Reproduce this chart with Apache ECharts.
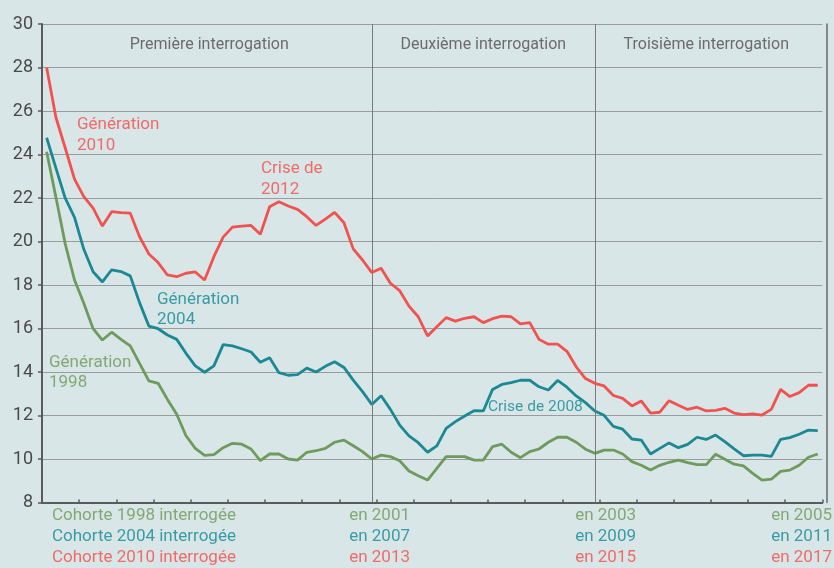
<!DOCTYPE html>
<html>
<head>
<meta charset="utf-8">
<title>Générations</title>
<script src="https://cdn.jsdelivr.net/npm/echarts@6/dist/echarts.min.js"></script>
<style>
  html, body { margin: 0; padding: 0; background: #d9e6e7; }
  #chart { width: 834px; height: 568px; }
</style>
</head>
<body>
<div id="chart"></div>
<script>
// mois depuis la sortie du système éducatif (84 mois)
var mois = [];
for (var m = 1; m <= 84; m++) { mois.push('M' + m); }

var gen2010 = [28.0, 25.7, 24.3, 22.87, 22.06, 21.53, 20.71, 21.37, 21.33, 21.3,
  20.22, 19.43, 19.03, 18.46, 18.38, 18.54, 18.6, 18.23, 19.3, 20.2,
  20.66, 20.71, 20.74, 20.33, 21.6, 21.83, 21.63, 21.48, 21.14, 20.74,
  21.03, 21.34, 20.86, 19.66, 19.15, 18.57, 18.77, 18.08, 17.74, 17.03,
  16.54, 15.66, 16.08, 16.5, 16.34, 16.47, 16.54, 16.27, 16.45, 16.57,
  16.54, 16.21, 16.27, 15.5, 15.28, 15.28, 14.95, 14.24, 13.7, 13.48,
  13.36, 12.92, 12.79, 12.44, 12.67, 12.11, 12.15, 12.68, 12.47, 12.28,
  12.38, 12.21, 12.24, 12.33, 12.11, 12.04, 12.07, 12.02, 12.28, 13.2,
  12.87, 13.05, 13.39, 13.39];

var gen2004 = [24.77, 23.37, 21.99, 21.11, 19.64, 18.61, 18.14, 18.7, 18.62, 18.42,
  17.19, 16.11, 15.99, 15.7, 15.5, 14.86, 14.28, 13.99, 14.28, 15.26,
  15.2, 15.07, 14.92, 14.45, 14.66, 13.97, 13.85, 13.88, 14.18, 14.0,
  14.26, 14.47, 14.21, 13.63, 13.1, 12.51, 12.91, 12.28, 11.56, 11.06,
  10.75, 10.31, 10.6, 11.41, 11.72, 11.98, 12.22, 12.21, 13.2, 13.43,
  13.51, 13.62, 13.62, 13.32, 13.17, 13.61, 13.3, 12.9, 12.59, 12.21,
  12.01, 11.5, 11.37, 10.92, 10.87, 10.23, 10.49, 10.74, 10.52, 10.67,
  11.0, 10.9, 11.1, 10.8, 10.47, 10.15, 10.18, 10.18, 10.12, 10.9,
  10.98, 11.14, 11.33, 11.3];

var gen1998 = [24.13, 22.03, 19.89, 18.23, 17.16, 15.99, 15.47, 15.83, 15.5, 15.2,
  14.4, 13.59, 13.48, 12.74, 12.06, 11.07, 10.49, 10.17, 10.2, 10.52,
  10.72, 10.68, 10.46, 9.92, 10.23, 10.23, 10.0, 9.95, 10.31, 10.38,
  10.49, 10.77, 10.87, 10.61, 10.34, 10.0, 10.18, 10.11, 9.92, 9.45,
  9.23, 9.03, 9.57, 10.11, 10.11, 10.11, 9.95, 9.95, 10.57, 10.68,
  10.31, 10.06, 10.34, 10.46, 10.77, 11.0, 11.0, 10.77, 10.45, 10.26,
  10.41, 10.41, 10.23, 9.88, 9.71, 9.49, 9.71, 9.85, 9.95, 9.83,
  9.74, 9.74, 10.22, 9.99, 9.76, 9.68, 9.34, 9.03, 9.07, 9.43,
  9.49, 9.71, 10.08, 10.23];

var interrogations = ['Première interrogation', 'Deuxième interrogation', 'Troisième interrogation'];
var bornes = [0, 35, 59, 83];   // index des mois : début, 1re, 2e et 3e interrogation
var cohortes = ['1998', '2004', '2010'];
var anneesInterro = [['2001', '2003', '2005'], ['2007', '2009', '2011'], ['2013', '2015', '2017']];

var rouge = '#f0524f', bleu = '#1b8893', vert = '#6e9b5d';
var txtRouge = '#ee6b6a', txtBleu = '#3a9ba5', txtVert = '#84a874';
var police = 'Roboto, sans-serif';

var chart = echarts.init(document.getElementById('chart'));

function annot(txt, x, y, col, size) {
  return {
    type: 'text', silent: true,
    style: { text: txt, x: x, y: y, fill: col, font: (size || 17) + 'px ' + police,
      lineHeight: 20.5, textVerticalAlign: 'middle' }
  };
}

var graphics = [
  annot('Génération\n2010', 77, 135, txtRouge),
  annot('Crise de\n2012', 261, 179, txtRouge),
  annot('Génération\n2004', 157, 309.5, txtBleu),
  annot('Génération\n1998', 49, 372.5, txtVert),
  annot('Crise de 2008', 488, 407, txtBleu, 15.5)
];
var couleursLignes = [txtVert, txtBleu, txtRouge];
var xFins = [410, 636, 832];
for (var r = 0; r < 3; r++) {
  var yRow = 516 + r * 21;
  graphics.push(annot('Cohorte ' + cohortes[r] + ' interrogée', 52, yRow, couleursLignes[r]));
  for (var k = 0; k < 3; k++) {
    var g = annot('en ' + anneesInterro[r][k], xFins[k], yRow, couleursLignes[r]);
    g.style.textAlign = 'right';
    graphics.push(g);
  }
}

var option = {
  backgroundColor: '#d9e6e7',
  animation: false,
  grid: { left: 42, right: 11.6, top: 24, bottom: 65.5 },
  xAxis: {
    type: 'category',
    data: mois,
    boundaryGap: true,
    axisLine: { show: true, lineStyle: { color: '#5a5a5a', width: 2 } },
    axisTick: { show: true, inside: true, length: 3, lineStyle: { color: '#5a5a5a', width: 1.5 } },
    axisLabel: { show: false },
    splitLine: { show: false }
  },
  yAxis: [{
    type: 'value',
    min: 8, max: 30, interval: 2,
    axisLine: { show: true, lineStyle: { color: '#5a5a5a', width: 2 } },
    axisTick: { show: true, length: 4, lineStyle: { color: '#5a5a5a', width: 1.5 } },
    axisLabel: { color: '#4a4a4a', fontSize: 18, fontFamily: police, margin: 9 },
    splitLine: { lineStyle: { color: '#999c9c', width: 1 } }
  }, {
    type: 'value',
    position: 'right',
    offset: 4.5,
    min: 8, max: 30, interval: 2,
    axisLine: { show: true, lineStyle: { color: '#6a6a6a', width: 1.5 } },
    axisTick: { show: false },
    axisLabel: { show: false },
    splitLine: { show: false }
  }],
  series: [
    {
      name: 'Génération 1998', type: 'line', data: gen1998, symbol: 'none',
      lineStyle: { color: vert, width: 2.8 }, z: 3,
      markLine: {
        silent: true, symbol: 'none', label: { show: false },
        lineStyle: { color: '#7a7a7a', width: 1, type: 'solid' },
        data: [{ xAxis: mois[bornes[1]] }, { xAxis: mois[bornes[2]] }]
      },
      markArea: {
        silent: true,
        itemStyle: { color: 'rgba(0,0,0,0)' },
        label: { position: 'insideTop', distance: 13, color: '#6b6b6b', fontSize: 16, fontFamily: police },
        data: interrogations.map(function (t, i) {
          return [{ name: t, xAxis: mois[bornes[i]] }, { xAxis: mois[bornes[i + 1]] }];
        })
      }
    },
    {
      name: 'Génération 2004', type: 'line', data: gen2004, symbol: 'none',
      lineStyle: { color: bleu, width: 2.8 }, z: 4
    },
    {
      name: 'Génération 2010', type: 'line', data: gen2010, symbol: 'none',
      lineStyle: { color: rouge, width: 2.8 }, z: 5
    }
  ],
  graphic: graphics
};
chart.setOption(option);
</script>
</body>
</html>
